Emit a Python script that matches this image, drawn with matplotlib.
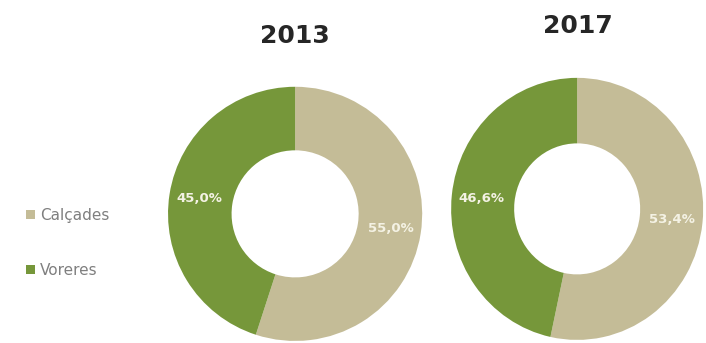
import matplotlib.pyplot as plt
from matplotlib.patches import Patch

# share of street surface by type, per year
years = ['2013', '2017']
categories = ['Calçades', 'Voreres']
calcades = [55.0, 53.4]
voreres = [45.0, 46.6]

colors = ['#C4BC97', '#76973A']


def fmt_pct(p):
    return f"{p:.1f}%".replace('.', ',')


fig = plt.figure(figsize=(7.06, 3.43), dpi=100)
fig.patch.set_facecolor('white')

# axes boxes in figure fraction (left, bottom, width, height)
boxes = [(0.238, 0.006, 0.360, 0.741), (0.639, 0.009, 0.357, 0.764)]
title_y = [0.895, 0.924]
title_x = [0.418, 0.819]

for i, year in enumerate(years):
    ax = fig.add_axes(boxes[i])
    ax.pie([calcades[i], voreres[i]], colors=colors, startangle=90,
           counterclock=False, radius=1.0,
           wedgeprops=dict(width=0.5, edgecolor='none'),
           autopct=fmt_pct, pctdistance=0.76,
           textprops=dict(color='#F4F2E4', fontsize=9.5, fontweight='bold'))
    ax.set_aspect('auto')
    ax.set_xlim(-1, 1)
    ax.set_ylim(-1, 1)
    fig.text(title_x[i], title_y[i], year, ha='center', va='center',
             fontsize=18, fontweight='bold', color='#262626')

handles = [Patch(facecolor=c, edgecolor='none') for c in colors]
fig.legend(handles, categories, loc='center left',
           bbox_to_anchor=(0.018, 0.292), frameon=False,
           labelspacing=2.6, handlelength=0.55, handleheight=0.55,
           handletextpad=0.35, prop=dict(size=11),
           labelcolor='#7F7F7F')

fig.savefig('out.png', dpi=100, facecolor='white')
